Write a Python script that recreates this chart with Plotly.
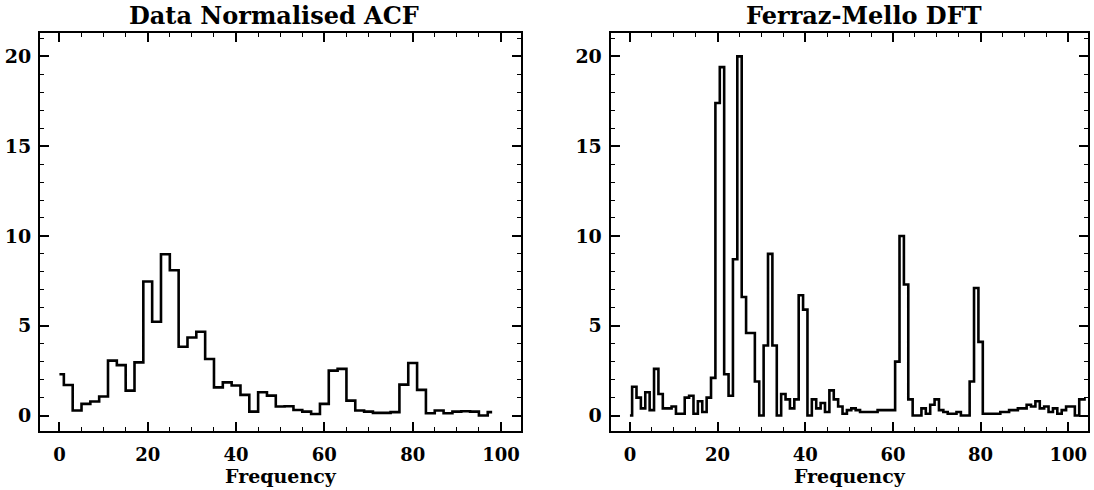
import plotly.graph_objects as go

# ---- data ----
acf_freq = list(range(0, 100, 2))
acf_vals = [2.3, 1.7, 0.28, 0.65, 0.78, 1.06, 3.06, 2.81, 1.39, 2.96,
            7.46, 5.22, 8.98, 8.09, 3.83, 4.35, 4.67, 3.15, 1.57, 1.85,
            1.67, 1.15, 0.22, 1.30, 1.11, 0.50, 0.52, 0.31, 0.22, 0.09,
            0.65, 2.50, 2.60, 0.83, 0.28, 0.22, 0.15, 0.15, 0.19, 1.72,
            2.93, 1.43, 0.13, 0.28, 0.13, 0.22, 0.24, 0.22, 0.00, 0.19]

dft_freq = list(range(0, 105))
dft_vals = [0.0, 1.6, 1.0, 0.4, 1.3, 0.3, 2.6, 1.2, 0.4, 0.4,
            0.5, 0.1, 0.1, 1.0, 1.1, 0.1, 0.8, 0.2, 1.0, 2.1,
            17.4, 19.4, 2.3, 1.1, 8.7, 20.0, 6.6, 4.6, 4.6, 1.9,
            0.0, 3.9, 9.0, 3.9, 0.0, 1.2, 0.9, 0.4, 0.9, 6.7,
            5.9, 0.0, 0.9, 0.4, 0.7, 0.2, 1.4, 0.9, 0.5, 0.1,
            0.3, 0.4, 0.3, 0.2, 0.2, 0.2, 0.2, 0.3, 0.3, 0.3,
            0.3, 3.0, 10.0, 7.3, 0.9, 0.0, 0.0, 0.4, 0.1, 0.6,
            0.9, 0.3, 0.2, 0.1, 0.1, 0.2, 0.0, 0.0, 1.9, 7.1,
            4.1, 0.1, 0.1, 0.1, 0.1, 0.2, 0.2, 0.3, 0.3, 0.4,
            0.4, 0.6, 0.5, 0.8, 0.4, 0.5, 0.2, 0.4, 0.1, 0.3,
            0.5, 0.5, 0.0, 0.9, 0.9]

titles = ["Data Normalised ACF", "Ferraz-Mello DFT"]
x_title = "Frequency"
x_ticks = [0, 20, 40, 60, 80, 100]
y_ticks = [0, 5, 10, 15, 20]

W, H = 1094, 490
ML, MR, MT, MB = 40, 3.5, 33, 59
pw = W - ML - MR

fig = go.Figure()
fig.add_trace(go.Scatter(x=acf_freq, y=acf_vals, mode="lines",
                         line=dict(shape="hvh", color="black", width=2.6),
                         xaxis="x", yaxis="y", showlegend=False))
fig.add_trace(go.Scatter(x=dft_freq, y=dft_vals, mode="lines",
                         line=dict(shape="hvh", color="black", width=2.6),
                         xaxis="x2", yaxis="y2", showlegend=False))

xtickfont = dict(family="DejaVu Serif", size=18, color="black")
ytickfont = dict(family="DejaVu Serif", size=19, color="black")
titlefont = dict(family="DejaVu Serif", size=19, color="black")

def xax(domain, anchor):
    return dict(domain=domain, anchor=anchor, range=[-4.4, 104.5],
                tickvals=x_ticks, ticktext=[f"<b>{t}</b>" for t in x_ticks],
                ticks="inside", ticklen=9, tickwidth=1.5, tickcolor="black",
                minor=dict(dtick=5, tick0=0, ticks="inside", ticklen=4,
                           tickwidth=1.2, tickcolor="black"),
                showline=True, linecolor="black", linewidth=2, mirror="ticks",
                showgrid=False, zeroline=False, tickfont=xtickfont,
                ticklabelstandoff=6,
                title=dict(text=f"<b>{x_title}</b>", font=titlefont, standoff=3))

def yax(anchor):
    return dict(domain=[0, 1], anchor=anchor, range=[-0.86, 21.3],
                tickvals=y_ticks, ticktext=[f"<b>{t}</b>" for t in y_ticks],
                ticks="inside", ticklen=9, tickwidth=1.5, tickcolor="black",
                minor=dict(dtick=1, tick0=0, ticks="inside", ticklen=4,
                           tickwidth=1.2, tickcolor="black"),
                showline=True, linecolor="black", linewidth=2, mirror="ticks",
                showgrid=False, zeroline=False, tickfont=ytickfont,
                ticklabelstandoff=3)

d1 = [0, (522 - ML) / pw]
d2 = [(612 - ML) / pw, 1]

fig.update_layout(
    width=W, height=H,
    margin=dict(l=ML, r=MR, t=MT, b=MB),
    paper_bgcolor="white", plot_bgcolor="white",
    xaxis=xax(d1, "y"), yaxis=yax("x"),
    xaxis2=xax(d2, "y2"), yaxis2=yax("x2"),
    annotations=[
        dict(text=f"<b>{titles[0]}</b>", x=(275 - ML) / pw, y=1, xref="paper", yref="paper",
             xanchor="center", yanchor="bottom", yshift=1, showarrow=False,
             font=dict(family="DejaVu Serif", size=24, color="black")),
        dict(text=f"<b>{titles[1]}</b>", x=(866 - ML) / pw, y=1, xref="paper", yref="paper",
             xanchor="center", yanchor="bottom", yshift=1, showarrow=False,
             font=dict(family="DejaVu Serif", size=24, color="black")),
    ],
)

fig.write_html("out.html")
